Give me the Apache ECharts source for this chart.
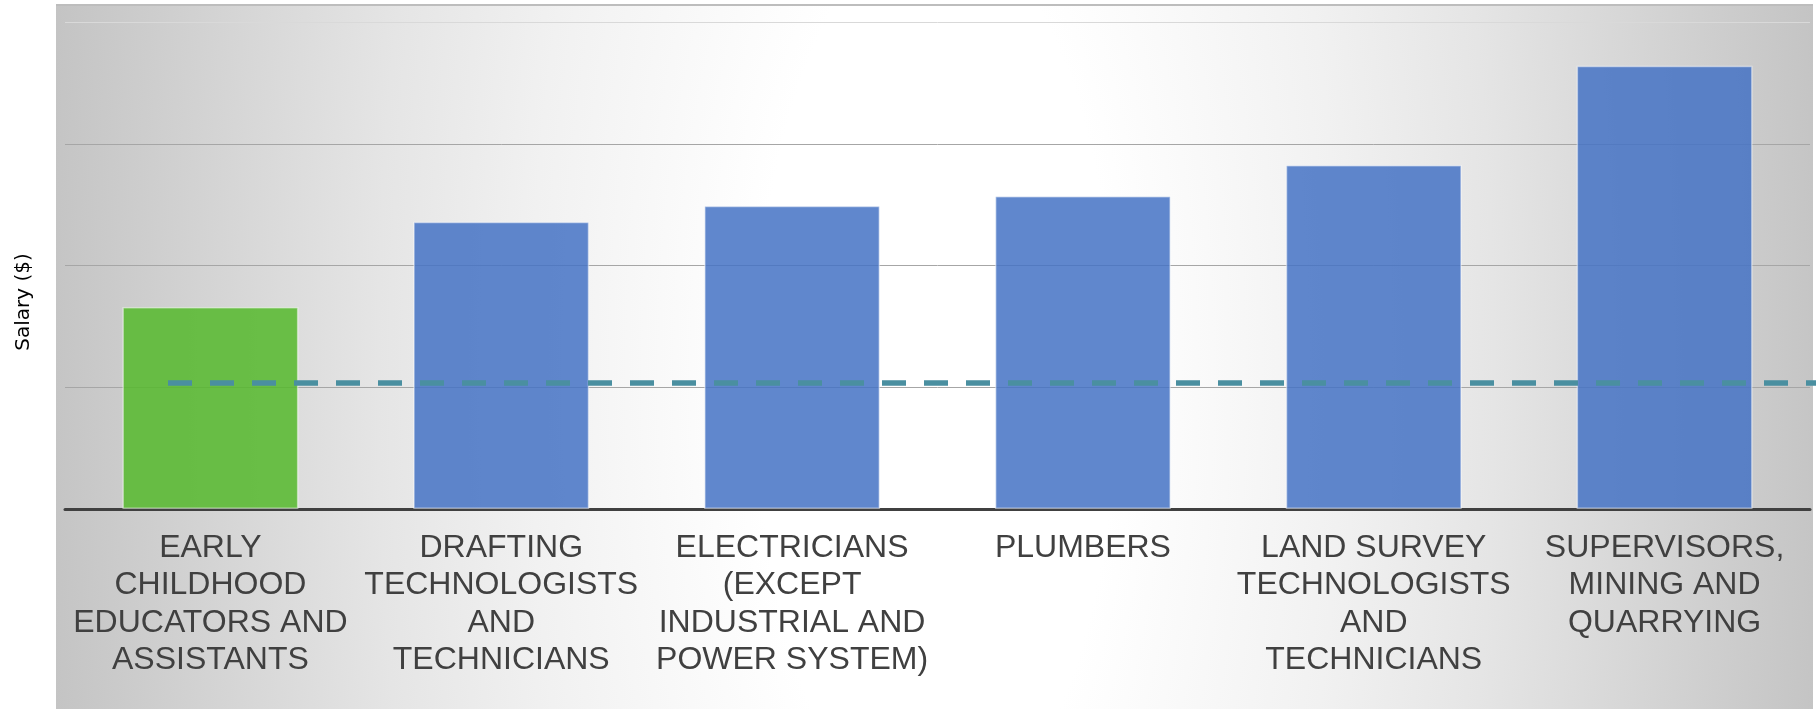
<!DOCTYPE html>
<html>
<head>
<meta charset="utf-8">
<script src="https://cdn.jsdelivr.net/npm/echarts@6/dist/echarts.min.js"></script>
<style>
  html, body { margin: 0; padding: 0; background: #ffffff; }
  #chart { width: 1816px; height: 709px; }
</style>
</head>
<body>
<div id="chart"></div>
<script>
// ---- data ----
const categories = [
  "EARLY\nCHILDHOOD\nEDUCATORS AND\nASSISTANTS",
  "DRAFTING\nTECHNOLOGISTS\nAND\nTECHNICIANS",
  "ELECTRICIANS\n(EXCEPT\nINDUSTRIAL AND\nPOWER SYSTEM)",
  "PLUMBERS",
  "LAND SURVEY\nTECHNOLOGISTS\nAND\nTECHNICIANS",
  "SUPERVISORS,\nMINING AND\nQUARRYING"
];
const salaries = [33200, 47200, 49800, 51400, 56500, 72800];
const referenceSalary = 20700;
const referenceLine = [referenceSalary, referenceSalary];
const highlightIndex = 0;
const yAxisName = "Salary ($)";

// ---- chart ----
const chart = echarts.init(document.getElementById('chart'), null, { renderer: 'canvas' });

const bgScale = 2.5;
const bgX = 56, bgY = 4, bgW = 1757, bgH = 709 - 4;

const option = {
  animation: false,
  backgroundColor: '#ffffff',
  graphic: [
    {
      type: 'rect',
      x: bgX, y: bgY,
      scaleY: bgScale,
      z: -10,
      silent: true,
      shape: { x: 0, y: 0, width: bgW, height: bgH / bgScale },
      style: {
        fill: {
          type: 'radial', global: true,
          x: 880, y: (380 - bgY) / bgScale, r: 900,
          colorStops: [
            { offset: 0, color: '#ffffff' },
            { offset: 0.2, color: '#ffffff' },
            { offset: 0.45, color: '#f1f1f1' },
            { offset: 0.62, color: '#e5e5e5' },
            { offset: 0.82, color: '#d3d3d3' },
            { offset: 1, color: '#c3c3c3' }
          ]
        }
      }
    },
    {
      type: 'line',
      z: -9,
      silent: true,
      shape: { x1: bgX, y1: bgY + 1, x2: bgX + bgW, y2: bgY + 1 },
      style: { stroke: '#bdbdbd', lineWidth: 2 }
    },
    {
      type: 'text',
      x: 24, y: 302,
      rotation: Math.PI / 2,
      style: {
        text: yAxisName,
        fontFamily: 'DejaVu Sans',
        fontSize: 20,
        fill: '#000000',
        align: 'center',
        verticalAlign: 'middle'
      }
    }
  ],
  grid: [
    { left: 65, right: 6, top: 22, bottom: 200, containLabel: false },
    { left: 168, right: 0, top: 22, bottom: 200, containLabel: false }
  ],
  xAxis: [
    {
      type: 'category',
      gridIndex: 0,
      data: categories,
      axisLine: { show: true, lineStyle: { color: '#404040', width: 3 } },
      axisTick: { show: false },
      axisLabel: {
        interval: 0,
        margin: 20,
        color: '#404040',
        fontFamily: 'Liberation Sans, Arial, sans-serif',
        fontSize: 32,
        lineHeight: 37.5,
        align: 'center',
        verticalAlign: 'top'
      }
    },
    {
      type: 'category',
      gridIndex: 1,
      data: ['', ''],
      boundaryGap: false,
      show: false
    }
  ],
  yAxis: [
    {
      type: 'value',
      gridIndex: 0,
      min: 0, max: 80000, interval: 20000,
      axisLine: { show: false },
      axisTick: { show: false },
      axisLabel: { show: false },
      splitLine: {
        show: true,
        lineStyle: { color: ['#a6a6a6', '#a6a6a6', '#a6a6a6', '#a6a6a6', '#d9d9d9'], width: 1 }
      }
    },
    {
      type: 'value',
      gridIndex: 1,
      min: 0, max: 80000, interval: 20000,
      show: false,
      splitLine: { show: false }
    }
  ],
  series: [
    {
      type: 'bar',
      xAxisIndex: 0, yAxisIndex: 0,
      data: salaries,
      barWidth: '60.5%',
      itemStyle: {
        color: function (p) { return p.dataIndex === highlightIndex ? '#55b82b' : '#4472c4'; },
        opacity: 0.85,
        borderColor: 'rgba(255,255,255,0.55)',
        borderWidth: 1.5
      }
    },
    {
      type: 'line',
      xAxisIndex: 1, yAxisIndex: 1,
      data: referenceLine,
      symbol: 'none',
      z: 5,
      lineStyle: { color: '#4a8fa0', width: 5.5, type: [24, 18], cap: 'butt' }
    }
  ]
};

chart.setOption(option);
</script>
</body>
</html>
